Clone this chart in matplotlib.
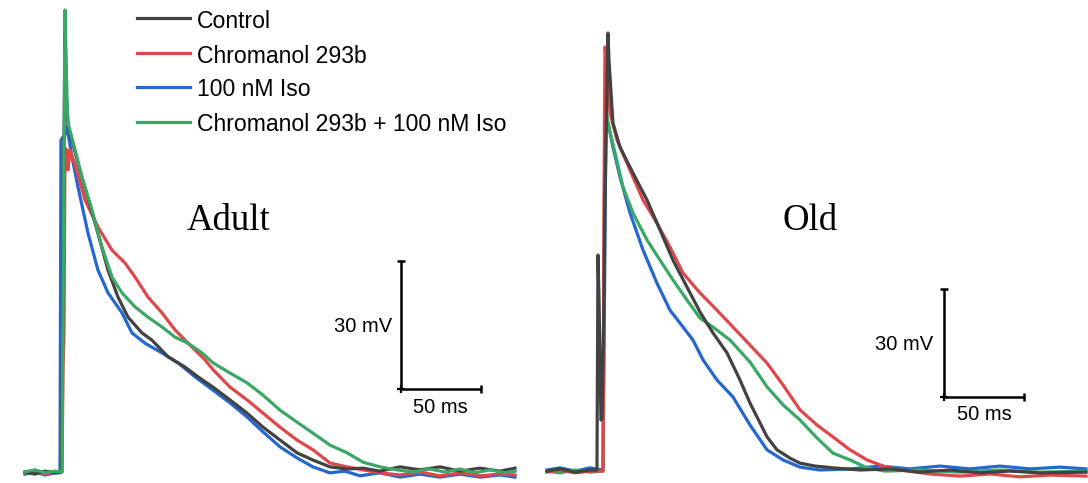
import matplotlib
matplotlib.use("Agg")
import matplotlib.pyplot as plt

# ---------------- data (time in ms, membrane potential in mV) ----------------
labels = ["Control", "Chromanol 293b", "100 nM Iso", "Chromanol 293b + 100 nM Iso"]
colors = ["#424242", "#E0474A", "#2467CF", "#3AA865"]

# Adult panel
adult_ctrl_t = [-21.9, -15.6, -9.4, -3.1, 0.9, 3.1, 4.1, 5, 9.4, 13.75, 20, 26.25, 30, 36.25, 42.5, 51.25, 57.5,
                67.5, 78.1, 86.25, 95.6, 106.25, 116.9, 126.9, 137.5, 148.1, 158.1, 168.75, 179.4, 189.4, 200,
                212.5, 225, 237.5, 250, 262.5, 275, 284.4]
adult_ctrl_v = [-80, -80.5, -79.8, -80.2, -80, 24, 7.2, 1.3, -5, -11.1, -19.1, -27.5, -32.7, -39.0, -43.7, -47.4,
                -49.1, -53.0, -55.4, -57.7, -60.1, -63.1, -66.2, -69.5, -72.5, -75.5, -77.2, -78.8, -79.3, -79.1,
                -79.8, -78.8, -79.5, -78.8, -79.8, -79.1, -79.8, -79.1]

adult_chrom_t = [-21.9, -15.6, -9.4, -3.1, 1.25, 1.9, 2.5, 3.1, 4.4, 5, 6.25, 9.4, 15.6, 23.75, 32.5, 40.6, 46.9,
                 55, 63.75, 71.9, 80, 90.6, 95.6, 106.25, 116.9, 126.9, 137.5, 148.1, 158.1, 168.75, 179.4, 189.4,
                 200, 212.5, 225, 237.5, 250, 262.5, 275, 284.4]
adult_chrom_v = [-80.2, -79.8, -80.5, -80, -80, -56.1, -47.9, -4.1, -4.5, -9.2, -4.5, -8.0, -16.2, -22.6, -28.0,
                 -31.0, -34.3, -39.0, -42.7, -46.7, -49.8, -53.7, -56.0, -60.1, -63.1, -66.2, -69.5, -72.5, -74.8,
                 -77.9, -78.8, -79.5, -80.2, -80.7, -80, -80.9, -80.2, -80.9, -80.5, -80.7]

adult_iso_t = [-21.9, -15.6, -9.4, -3.1, 0, 0.6, 1.9, 3.1, 4.4, 7.5, 11.25, 17.5, 23.75, 30, 38.75, 45, 53.1, 63.75,
               73.75, 84.4, 95.6, 106.25, 116.9, 126.9, 137.5, 148.1, 158.1, 168.75, 178.1, 187.5, 200, 212.5, 225,
               237.5, 250, 262.5, 275, 284.4]
adult_iso_v = [-80.5, -80, -80.7, -80.2, -80.2, -2.2, -1.5, -1.0, 0.9, -6.2, -13.2, -24.0, -32.7, -38.0, -42.7,
               -47.4, -49.8, -52.1, -54.4, -57.7, -60.8, -63.8, -67.1, -70.6, -74.1, -76.7, -78.8, -80.2, -79.8,
               -80.9, -80.2, -81.2, -80.5, -81.2, -80.5, -81.2, -80.7, -81.2]

adult_both_t = [-21.9, -15.6, -9.4, -3.1, 1.25, 3.1, 4.4, 5, 9.4, 13.75, 20, 26.25, 32.5, 38.75, 46.9, 55, 63.75,
                71.9, 80, 88.75, 95.6, 106.25, 116.9, 126.9, 137.5, 148.1, 158.1, 168.75, 179.4, 189.4, 200, 210.6,
                220.6, 231, 240.6, 250, 259.4, 268.75, 278, 284.4]
adult_both_v = [-80, -79.5, -80.2, -79.8, -80, 28.3, 7.2, 1.8, -4.5, -10.9, -18.6, -27.3, -34.3, -38.0, -41.3,
                -43.7, -46.0, -48.4, -49.8, -52.1, -54.4, -56.8, -59.1, -62.0, -65.5, -68.3, -70.9, -73.7, -75.5,
                -77.7, -78.8, -79.5, -80, -79.3, -80, -79.3, -80.2, -79.5, -80.2, -79.8]

# Old panel
old_ctrl_t = [-33.1, -25, -15.6, -6.25, -1.9, -1.25, -0.6, 0.6, 1.25, 2.5, 3.1, 5, 5.6, 8.1, 12.5, 20.6, 29.4, 37.5,
              45.6, 54.4, 62.5, 70.6, 79.4, 87.5, 93.75, 104.4, 110.6, 118.75, 125, 134.4, 145.6, 162.5, 181.25,
              200, 218.75, 237.5, 256.25, 275, 303.75]
old_ctrl_v = [-80.3, -79.7, -80.6, -80, -80, -20.3, -32.8, -66.1, -65.6, -32.8, -5, 41.4, 33.9, 16.4, 9.7, 2.5, -5,
              -13.3, -21.7, -29.2, -36.1, -41.9, -47.5, -55, -61.4, -70.8, -74.4, -76.7, -78.1, -78.9, -79.4, -80,
              -79.7, -80.6, -80, -80.8, -80.3, -80.8, -80.6]

old_chrom_t = [-33.1, -25, -15.6, -6.25, 1.9, 2.5, 3.1, 4.4, 6.25, 10.6, 18.75, 26.9, 35.6, 43.75, 51.9, 62.5, 73.1,
               83.1, 93.75, 104.4, 114.4, 125, 135.6, 145.6, 156.25, 166.9, 176.9, 187.5, 206.25, 225, 243.75,
               262.5, 281.25, 303.75]
old_chrom_v = [-80.6, -80, -80.8, -80.3, -80.3, -5, 37.5, 33.9, 19.2, 11.7, 3.3, -5, -11.4, -18.1, -25.3, -30.8,
               -35.6, -40.3, -45.3, -50.3, -56.4, -63.3, -67.5, -70.8, -74.4, -77.2, -78.9, -80, -81.1, -81.7,
               -81.1, -81.9, -81.4, -81.7]

old_iso_t = [-33.1, -25, -15.6, -6.25, 1.9, 3.75, 5, 8.1, 12.5, 18.75, 26.9, 35.6, 43.75, 50, 58.1, 64.4, 73.1, 83.1,
             93.75, 104.4, 114.4, 125, 137.5, 156.25, 175, 193.75, 212.5, 231.25, 250, 268.75, 287.5, 303.75]
old_iso_v = [-80, -79.4, -80.3, -79.4, -80, 17.2, 16.4, 9.7, 1.4, -8.6, -18.9, -28.1, -35.6, -39.2, -43.9, -49.4,
             -55, -59.7, -67.5, -74.4, -77.2, -79.2, -80, -79.7, -78.9, -79.7, -78.9, -79.7, -78.9, -79.7, -79.2,
             -79.7]

old_both_t = [-33.1, -25, -15.6, -6.25, 1.9, 3.1, 5, 9.4, 14.4, 20.6, 29.4, 37.5, 45.6, 54.4, 62.5, 70.6, 81.25,
              93.75, 104.4, 114.4, 125, 135.6, 145.6, 156.25, 166.9, 178.1, 200, 225, 250, 275, 303.75]
old_both_v = [-80.3, -80.8, -80, -80.6, -80.3, 22.8, 16.4, 8.1, -1.4, -8.6, -16.1, -21.7, -27.2, -32.8, -37.8,
              -40.3, -43.9, -50, -56.9, -61.9, -66.1, -71.1, -75.3, -77.2, -79.4, -80.3, -80, -80.6, -80, -80.6,
              -80.3]

scale_mv = 30
scale_ms = 50
panel_titles = ["Adult", "Old"]

# ---------------- figure ----------------
W, H = 1088, 483
fig = plt.figure(figsize=(W / 100, H / 100), dpi=100)
sans = "Liberation Sans"
serif = "Liberation Serif"
LW = 2.3

axA = fig.add_axes([0, 0, 0.5, 1])
axO = fig.add_axes([0.5, 0, 0.5, 1])
for ax in (axA, axO):
    ax.axis("off")

axA.set_xlim(-37.5, 302.5)
axA.set_ylim(-82.58, 30.64)
axO.set_xlim(-35, 305)
axO.set_ylim(-83.61, 50.56)

# Adult traces (green drawn on top)
adult = [(adult_ctrl_t, adult_ctrl_v, 0), (adult_chrom_t, adult_chrom_v, 1),
         (adult_iso_t, adult_iso_v, 2), (adult_both_t, adult_both_v, 3)]
order_adult = [2, 1, 0, 3]
for i in order_adult:
    t, v, c = adult[i]
    axA.plot(t, v, color=colors[c], lw=LW, solid_joinstyle="round")

old = [(old_ctrl_t, old_ctrl_v, 0), (old_chrom_t, old_chrom_v, 1),
       (old_iso_t, old_iso_v, 2), (old_both_t, old_both_v, 3)]
order_old = [2, 3, 1, 0]
for i in order_old:
    t, v, c = old[i]
    axO.plot(t, v, color=colors[c], lw=LW, solid_joinstyle="round")


def scale_bar(ax, t0, v0):
    ax.plot([t0, t0], [v0, v0 + scale_mv], color="black", lw=1.8, solid_capstyle="butt")
    ax.plot([t0, t0 + scale_ms], [v0, v0], color="black", lw=1.8, solid_capstyle="butt")
    ax.plot([t0], [v0 + scale_mv], marker="_", ms=6, mew=1.8, color="black")
    ax.plot([t0 + scale_ms], [v0], marker="|", ms=6, mew=1.8, color="black")
    ax.plot([t0], [v0], marker="+", ms=6, mew=1.6, color="black")


scale_bar(axA, 213.1, -60.5)
scale_bar(axO, 215.0, -59.7)


def ftext(px, py, s, **kw):
    fig.text(px / W, 1 - py / H, s, **kw)


# scale bar labels
ftext(334, 332, f"{scale_mv} mV", fontsize=14.5, family=sans, va="baseline", ha="left")
ftext(413, 413, f"{scale_ms} ms", fontsize=14.5, family=sans, va="baseline", ha="left")
ftext(875, 350, f"{scale_mv} mV", fontsize=14.5, family=sans, va="baseline", ha="left")
ftext(957, 420, f"{scale_ms} ms", fontsize=14.5, family=sans, va="baseline", ha="left")

# panel titles
ftext(187, 230, panel_titles[0], fontsize=26.5, family=serif, va="baseline", ha="left")
ftext(782, 230, panel_titles[1], fontsize=26.5, family=serif, va="baseline", ha="left")

# legend
leg_line_y = [18, 53, 87, 122]
leg_base_y = [28, 63, 96, 131]
for i, lab in enumerate(labels):
    y = 1 - leg_line_y[i] / H
    fig.add_artist(plt.Line2D([137 / W, 190 / W], [y, y], color=colors[i], lw=LW,
                              transform=fig.transFigure))
    ftext(197, leg_base_y[i], lab, fontsize=16.6, family=sans, va="baseline", ha="left")

fig.savefig("out.png", dpi=100, facecolor="white")
